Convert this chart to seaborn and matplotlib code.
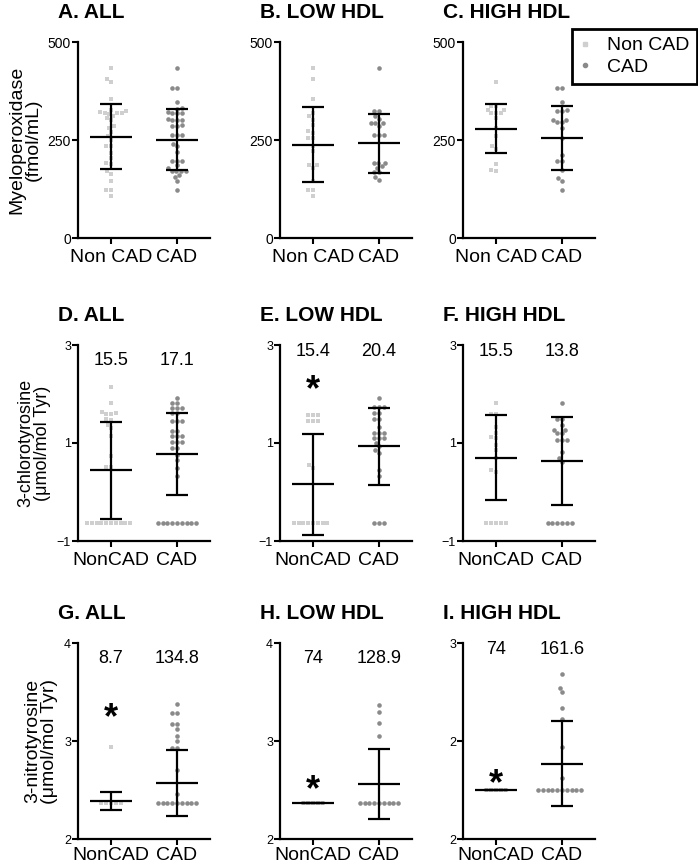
import warnings
import numpy as np
import pandas as pd
import matplotlib
matplotlib.use('Agg')
import matplotlib.pyplot as plt
from matplotlib.lines import Line2D
import seaborn as sns

warnings.filterwarnings('ignore')

sns.set_style('ticks')
plt.rcParams['font.family'] = ['Liberation Sans', 'DejaVu Sans']
plt.rcParams['text.color'] = 'black'
plt.rcParams['axes.labelcolor'] = 'black'
plt.rcParams['xtick.color'] = 'black'
plt.rcParams['ytick.color'] = 'black'

GRUPOS = ['Non CAD', 'CAD']
ROTULOS_X_MPO = ['Non CAD', 'CAD']
ROTULOS_X_TYR = ['NonCAD', 'CAD']

TITULOS = ['A. ALL', 'B. LOW HDL', 'C. HIGH HDL',
           'D. ALL', 'E. LOW HDL', 'F. HIGH HDL',
           'G. ALL', 'H. LOW HDL', 'I. HIGH HDL']

YLABELS = ['Myeloperoxidase\n(fmol/mL)',
           '3-chlorotyrosine\n(\u03bcmol/mol Tyr)',
           '3-nitrotyrosine\n(\u03bcmol/mol Tyr)']

# --- valores ---
# Myeloperoxidase
a_non = [434, 406, 399, 355, 322, 318, 316, 323, 318, 320, 327, 306, 310, 300, 285,
         281, 270, 259, 250, 234, 235, 217, 204, 191, 188, 170, 162, 145, 123, 123, 106]
a_cad = [434, 383, 383, 346, 332, 330, 319, 319, 318, 322, 302, 302, 300, 304, 286,
         288, 285, 264, 264, 264, 240, 234, 220, 197, 197, 197, 185, 178, 170, 170,
         170, 170, 160, 155, 145, 122]
b_non = [434, 406, 355, 320, 310, 302, 287, 272, 268, 255, 255, 234, 221, 187, 187,
         179, 145, 122, 122, 106]
b_cad = [434, 323, 323, 310, 303, 293, 293, 293, 285, 264, 264, 264, 191, 191, 191,
         183, 179, 168, 168, 156, 149]
c_non = [398, 336, 336, 319, 319, 327, 319, 327, 306, 281, 259, 234, 227, 190, 170, 174]
c_cad = [383, 383, 346, 327, 323, 323, 302, 295, 295, 302, 281, 255, 213, 197, 197,
         174, 153, 145, 122]

# 3-chlorotyrosine
d_non = [2.15, 1.81, 1.6, 1.62, 1.64, 1.59, 1.5, 1.47, 1.37, 1.3, 1.14, 0.73, 0.5, 0.5,
         -0.63, -0.63, -0.63, -0.63, -0.63, -0.63, -0.63, -0.63, -0.63, -0.63]
d_cad = [1.92, 1.81, 1.81, 1.71, 1.71, 1.71, 1.61, 1.61, 1.44, 1.44, 1.44, 1.24, 1.24,
         1.14, 1.14, 1.14, 1.03, 1.03, 1.03, 0.9, 0.9, 0.76, 0.66, 0.49, 0.32,
         -0.63, -0.63, -0.63, -0.63, -0.63, -0.63, -0.63, -0.63, -0.63]
e_non = [1.57, 1.57, 1.57, 1.45, 1.45, 1.45, 0.55, 0.49,
         -0.63, -0.63, -0.63, -0.63, -0.63, -0.63, -0.63, -0.63]
e_cad = [1.92, 1.73, 1.73, 1.73, 1.62, 1.62, 1.5, 1.5, 1.33, 1.2, 1.2, 1.2, 1.1, 1.1,
         1.1, 1.0, 0.93, 0.85, 0.8, 0.45, 0.32, -0.63, -0.63, -0.63]
f_non = [1.81, 1.6, 1.6, 1.33, 1.2, 1.13, 1.1, 0.96, 0.86, 0.69, 0.44, 0.41,
         -0.63, -0.63, -0.63, -0.63, -0.63]
f_cad = [1.81, 1.5, 1.5, 1.37, 1.27, 1.27, 1.2, 1.2, 1.06, 1.06, 1.06, 0.82, 0.69, 0.62,
         -0.63, -0.63, -0.63, -0.63, -0.63, -0.63]

# 3-nitrotyrosine
g_non = [2.94, 2.37, 2.37, 2.37, 2.37, 2.37]
g_cad = [3.38, 3.29, 3.29, 3.17, 3.17, 3.12, 3.05, 3.0, 2.93, 2.93, 2.7, 2.46,
         2.37, 2.37, 2.37, 2.37, 2.37, 2.37, 2.37, 2.37, 2.37]
h_non = [2.37, 2.37, 2.37, 2.37, 2.37]
h_cad = [3.37, 3.3, 3.18, 3.05, 2.37, 2.37, 2.37, 2.37, 2.37, 2.37, 2.37, 2.37, 2.37]
i_non = [2.25, 2.25, 2.25, 2.25, 2.25]
i_cad = [2.84, 2.77, 2.75, 2.67, 2.61, 2.47, 2.31,
         2.25, 2.25, 2.25, 2.25, 2.25, 2.25, 2.25, 2.25, 2.25, 2.25]

VALORES = [(a_non, a_cad), (b_non, b_cad), (c_non, c_cad),
           (d_non, d_cad), (e_non, e_cad), (f_non, f_cad),
           (g_non, g_cad), (h_non, h_cad), (i_non, i_cad)]

MEDIAS = [(258, 251), (238, 242), (279, 256),
          (0.44, 0.78), (0.16, 0.93), (0.70, 0.63),
          (2.39, 2.57), (2.37, 2.56), (2.25, 2.385)]
DESVIOS = [(83, 77), (96, 75), (62, 82),
           (0.99, 0.84), (1.03, 0.78), (0.87, 0.895),
           (0.09, 0.335), (0.0, 0.36), (0.0, 0.215)]

# numeros impressos acima dos grupos (paineis D-I)
NUMEROS = [None, None, None,
           ('15.5', '17.1'), ('15.4', '20.4'), ('15.5', '13.8'),
           ('8.7', '134.8'), ('74', '128.9'), ('74', '161.6')]
# asterisco de significancia: painel -> posicao y (fracao do eixo)
ESTRELAS = {4: 0.765, 6: 0.615, 7: 0.245, 8: 0.275}

Y_LIMITES = [(0, 500), (-1, 3), (2, 4)]
Y_TICKS = [[0, 250, 500], [-1, 1, 3], [2, 3, 4]]
I_LIMITES = (2, 3)
I_TICKS = [2, 2.5, 3]
I_TICKLABELS = ['2', '2', '3']

COR_NON = '#cfcfcf'
COR_CAD = '#8a8a8a'

# --- layout em pixels ---
W, H = 698, 865
col_left = [78, 280, 463]
row_top = [42, 345, 643]
ax_w, ax_h = 132, 196
num_y = [None, None, None, 0.92, 0.965, 0.965, 0.92, 0.92, 0.965]
x_pad = [4, 4, 2]

fig = plt.figure(figsize=(W / 100, H / 100), dpi=100)

for k in range(9):
    lin, col = divmod(k, 3)
    ax = fig.add_axes([col_left[col] / W, 1 - (row_top[lin] + ax_h) / H, ax_w / W, ax_h / H])

    non, cad = VALORES[k]
    df_non = pd.DataFrame({'grupo': GRUPOS[0], 'valor': non})
    df_cad = pd.DataFrame({'grupo': GRUPOS[1], 'valor': cad})
    sns.swarmplot(data=df_non, x='grupo', y='valor', order=GRUPOS, marker='s',
                  color=COR_NON, size=3.3, linewidth=0, ax=ax, zorder=2)
    sns.swarmplot(data=df_cad, x='grupo', y='valor', order=GRUPOS, marker='o',
                  color=COR_CAD, size=3.3, linewidth=0, ax=ax, zorder=2)

    xs = np.arange(len(GRUPOS))
    ax.errorbar(xs, MEDIAS[k], yerr=DESVIOS[k], fmt='none', ecolor='black',
                elinewidth=1.6, capsize=8, capthick=1.6, zorder=5)
    ax.hlines(MEDIAS[k], xs - 0.32, xs + 0.32, color='black', lw=1.6, zorder=5)

    ax.set_xlim(-0.5, 1.5)
    if k == 8:
        ax.set_ylim(*I_LIMITES)
        ax.set_yticks(I_TICKS)
        ax.set_yticklabels(I_TICKLABELS)
    else:
        ax.set_ylim(*Y_LIMITES[lin])
        ax.set_yticks(Y_TICKS[lin])

    ax.set_xticks(xs)
    ax.set_xticklabels(ROTULOS_X_MPO if lin == 0 else ROTULOS_X_TYR, fontsize=14)
    ax.tick_params(axis='y', labelsize=10 if lin == 0 else 9, length=4, width=1.5, pad=1)
    ax.tick_params(axis='x', length=4, width=1.5, pad=x_pad[lin])
    ax.set_xlabel('')
    ax.set_ylabel('')
    sns.despine(ax=ax)
    for lado in ['left', 'bottom']:
        ax.spines[lado].set_linewidth(1.6)
        ax.spines[lado].set_color('black')

    if col == 0:
        ax.set_ylabel(YLABELS[lin], fontsize=14 if lin != 1 else 13, labelpad=4,
                      linespacing=1.0)

    ax.text(-0.15, 1.15, TITULOS[k], transform=ax.transAxes, fontsize=15,
            fontweight='bold', ha='left', va='center')

    if NUMEROS[k] is not None:
        for x, s in zip(xs, NUMEROS[k]):
            ax.text(x, num_y[k], s, transform=ax.get_xaxis_transform(),
                    fontsize=13, ha='center', va='center')

    if k in ESTRELAS:
        ax.text(0, ESTRELAS[k], '*', transform=ax.get_xaxis_transform(),
                fontsize=26, fontweight='bold', ha='center', va='center')

handles = [Line2D([], [], marker='s', color=COR_NON, ls='none', markersize=3),
           Line2D([], [], marker='o', color=COR_CAD, ls='none', markersize=3)]
leg = fig.legend(handles, GRUPOS, loc='upper right',
                 bbox_to_anchor=(697 / W, 1 - 29 / H), fontsize=14, frameon=True,
                 fancybox=False, framealpha=1, borderpad=0.4, labelspacing=0.2,
                 handletextpad=0.8, handlelength=0.6, borderaxespad=0)
leg.get_frame().set_edgecolor('black')
leg.get_frame().set_linewidth(2)

fig.savefig('out.png', dpi=100)
